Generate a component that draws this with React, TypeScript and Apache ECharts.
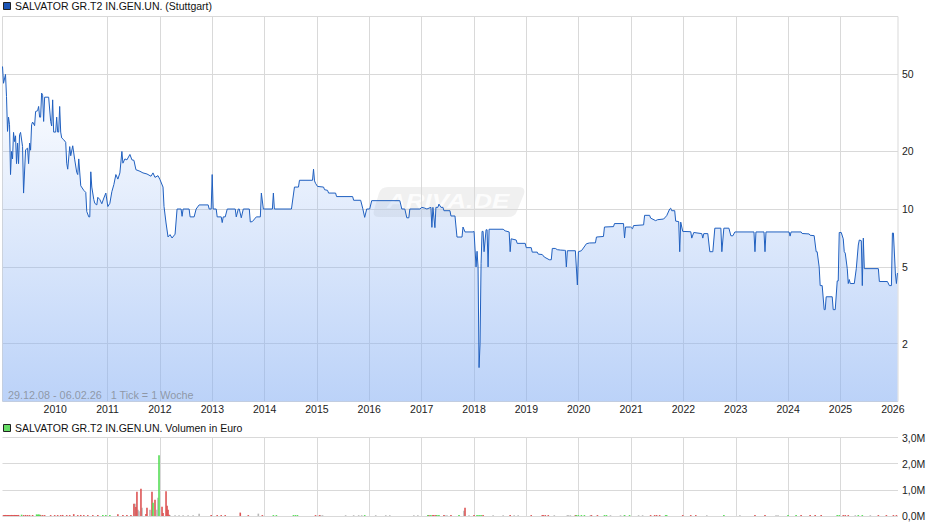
import { useEffect, useRef } from 'react';
import * as echarts from 'echarts';

const startDate = Date.UTC(2008, 11, 29);
const endDate = Date.UTC(2026, 1, 6);
const weekMs = 7 * 24 * 3600 * 1000;

const yearTicks = [2010, 2011, 2012, 2013, 2014, 2015, 2016, 2017, 2018, 2019, 2020, 2021, 2022, 2023, 2024, 2025, 2026];
const priceTicks = [2, 5, 10, 20, 50];

const priceTitle = 'SALVATOR GR.T2 IN.GEN.UN. (Stuttgart)';
const volumeTitle = 'SALVATOR GR.T2 IN.GEN.UN. Volumen in Euro';
const rangeNote = '29.12.08 - 06.02.26   1 Tick = 1 Woche';

// [week since 29.12.08, price]
const pricePoints: [number, number][] = [
  [0, 55], [1, 45], [3, 50], [4, 38.4], [5, 25.3], [6, 30], [7, 27.4], [8, 15.1], [9, 19.9], [10, 18.2],
  [11, 25], [12, 22.4], [13, 24], [14, 17.2], [15, 22], [16, 17.2], [17, 24.3], [18, 25], [20, 21.1], [21, 12.1],
  [23, 20.3], [25, 20.7], [26, 17.2], [27, 22], [28, 20.2], [29, 27.4], [30, 28.3], [32, 27.1], [33, 32.1], [35, 32.4],
  [36, 34.1], [37, 30], [38, 30], [39, 40], [40, 39], [41, 28.5], [42, 38.1], [46, 38.1], [48, 28.5], [49, 27],
  [50, 36.9], [51, 25.1], [53, 25.1], [54, 30], [55, 25.1], [56, 25.1], [57, 34.1], [58, 25.1], [59, 23.4], [61, 22.9],
  [63, 22.2], [64, 17.3], [65, 16.1], [67, 21.1], [68, 18.9], [70, 21.3], [72, 18], [74, 15.5], [75, 15.1], [76, 18.2],
  [78, 13.2], [81, 12.5], [83, 12.2], [84, 9.7], [86, 9.1], [87, 9.1], [88, 15.6], [89, 13], [91, 11.2], [92, 10.7],
  [94, 10.5], [95, 11.5], [97, 11.2], [99, 10.65], [101, 11.4], [103, 12.1], [105, 10.3], [107, 10.7], [109, 12.3], [111, 13.4],
  [113, 15.1], [115, 14.3], [117, 15.4], [119, 19.9], [120, 17.3], [122, 18.2], [124, 18], [127, 19.2], [129, 18], [131, 17.9],
  [133, 16], [137, 15.7], [140, 15.4], [144, 15.2], [148, 14.8], [150, 15.4], [152, 14.6], [155, 14.9], [157, 14.2], [160, 13],
  [161, 10.3], [163, 8.46], [165, 7.16], [167, 7.36], [169, 7.07], [172, 7.4], [174, 10], [178, 10], [179, 9.16], [180, 10],
  [186, 10], [187, 9.1], [191, 9.1], [193, 10], [196, 10.5], [205, 10.5], [206, 10], [208, 10], [209, 15.1], [210, 10],
  [213, 10], [214, 9.1], [218, 9.1], [219, 8.5], [220, 9.1], [222, 9.1], [224, 10], [232, 10], [233, 9.1], [235, 10],
  [236, 10], [238, 9], [240, 10], [246, 10], [247, 8.56], [249, 8.6], [253, 9.1], [257, 9.1], [258, 12.1], [260, 10],
  [269, 10], [270, 12.1], [271, 10], [288, 10], [291, 13], [295, 13], [296, 14.1], [309, 14.1], [310, 16.1], [311, 14],
  [312, 13.6], [314, 13.1], [320, 13], [321, 12.6], [324, 12.5], [325, 12.1], [332, 12.1], [333, 11.6], [349, 11.6], [350, 11.1],
  [357, 11.1], [359, 10.1], [361, 9.05], [363, 10], [366, 10], [368, 11.05], [396, 11.05], [398, 10], [401, 10], [403, 9],
  [405, 9], [406, 10], [416, 10], [418, 10.2], [421, 10.1], [423, 10], [427, 10.2], [428, 8.03], [429, 10.2], [431, 8],
  [432, 10.2], [434, 10.2], [435, 10.6], [437, 10.2], [439, 10.2], [440, 9.8], [446, 9.8], [447, 9.2], [451, 9.2], [453, 7.15],
  [458, 7.15], [459, 8.06], [461, 7.6], [469, 7.6], [470, 7.65], [472, 5], [473, 6.03], [474, 5], [475, 1.5], [476, 2],
  [477, 5.2], [478, 7.65], [479, 7.65], [480, 6], [482, 7.8], [483, 7.8], [484, 5], [485, 7.85], [499, 7.85], [501, 7.7],
  [505, 7.6], [506, 6], [507, 7], [512, 6.9], [513, 6.63], [521, 6.63], [522, 6.3], [527, 6.3], [528, 5.97], [533, 5.97],
  [534, 5.83], [538, 5.8], [540, 5.63], [545, 5.45], [547, 5.45], [548, 6.24], [551, 6.24], [553, 6.15], [556, 6.12], [560, 6.1],
  [561, 6.1], [562, 5], [563, 6.07], [571, 6.07], [573, 4.03], [574, 6], [577, 6.07], [579, 6.27], [582, 6.6], [585, 6.66],
  [591, 6.67], [592, 7.15], [599, 7.2], [600, 8.06], [609, 8.1], [610, 8.4], [619, 8.4], [620, 7.07], [621, 8.06], [626, 8.06],
  [628, 7.9], [629, 8.2], [639, 8.27], [640, 9.27], [645, 9.27], [646, 8.97], [651, 8.7], [653, 8.8], [659, 8.87], [662, 9.23],
  [665, 10], [666, 10.1], [667, 9.8], [670, 9.8], [671, 8.65], [674, 8.6], [675, 6], [676, 8.55], [678, 7.65], [686, 7.62],
  [687, 7.06], [689, 7.55], [697, 7.45], [698, 7.06], [699, 7.45], [703, 7.45], [705, 6], [708, 6], [710, 7.95], [716, 7.95],
  [717, 6], [719, 7.95], [724, 7.95], [726, 7.26], [728, 7.26], [730, 7.6], [749, 7.6], [750, 6], [751, 7.6], [759, 7.6],
  [760, 6], [761, 7.6], [784, 7.6], [785, 7.23], [786, 7.6], [796, 7.6], [797, 7.46], [804, 7.42], [805, 7.3], [809, 7.27],
  [811, 6], [812, 6], [814, 5], [815, 4], [817, 4], [819, 3], [820, 3], [821, 3.5], [827, 3.5], [828, 3],
  [830, 3], [832, 4.23], [833, 4.23], [834, 7.55], [836, 7.55], [838, 7], [839, 6], [840, 5.9], [842, 4.9], [843, 4.1],
  [844, 4.3], [845, 4.1], [849, 4.1], [851, 4.9], [853, 6.5], [854, 6.9], [856, 6.85], [857, 4], [858, 7.06], [859, 4.9],
  [873, 4.9], [874, 4.2], [882, 4.2], [884, 4], [886, 4], [887, 7.5], [888, 7.5], [890, 4.6], [891, 4.1], [892, 4.65],
];

// [week since 29.12.08, volume in million euro]
const redVolumes: [number, number][] = [
  [1, 0.035], [2, 0.035], [3, 0.04], [4, 0.035], [5, 0.035], [6, 0.04], [7, 0.035], [8, 0.035], [9, 0.04], [10, 0.035],
  [11, 0.035], [12, 0.04], [13, 0.035], [14, 0.035], [15, 0.035], [16, 0.04], [21, 0.035], [23, 0.04], [25, 0.035], [27, 0.035],
  [30, 0.035], [38, 0.04], [40, 0.035], [42, 0.035], [48, 0.035], [52, 0.035], [55, 0.035], [58, 0.035], [60, 0.04], [64, 0.035],
  [67, 0.035], [71, 0.07], [75, 0.035], [78, 0.04], [81, 0.035], [85, 0.035], [90, 0.035], [95, 0.035], [115, 0.07], [120, 0.035],
  [124, 0.035], [128, 0.035], [131, 0.47], [133, 0.34], [134, 0.93], [138, 1.04], [143, 0.08], [144, 0.32], [149, 0.93], [152, 0.62],
  [159, 0.35], [160, 0.11], [163, 0.95], [164, 0.39], [165, 0.24], [166, 0.05], [208, 0.035], [214, 0.035], [218, 0.035], [222, 0.035],
  [237, 0.13], [245, 0.035], [259, 0.035], [312, 0.035], [316, 0.035], [425, 0.035], [429, 0.035], [430, 0.035], [432, 0.035], [440, 0.035],
  [447, 0.035], [461, 0.32], [470, 0.035], [479, 0.035], [506, 0.035], [527, 0.035], [538, 0.035], [539, 0.035], [541, 0.035], [544, 0.035],
  [571, 0.035], [587, 0.035], [593, 0.035], [646, 0.035], [650, 0.035], [652, 0.035], [655, 0.035], [678, 0.035], [686, 0.035], [691, 0.035],
  [750, 0.035], [760, 0.035], [796, 0.035], [805, 0.035], [810, 0.035], [816, 0.035], [838, 0.035], [840, 0.035], [843, 0.035], [873, 0.035],
  [881, 0.035], [888, 0.035], [891, 0.035],
];

const greenVolumes: [number, number][] = [
  [19, 0.05], [34, 0.06], [35, 0.05], [36, 0.06], [37, 0.05], [100, 0.035], [103, 0.035], [107, 0.035], [150, 0.51], [156, 2.32],
  [270, 0.035], [273, 0.035], [290, 0.035], [292, 0.035], [294, 0.035], [361, 0.035], [424, 0.035], [427, 0.035], [433, 0.035], [435, 0.035],
  [455, 0.035], [473, 0.035], [475, 0.035], [477, 0.035], [572, 0.035], [574, 0.035], [577, 0.035], [580, 0.035], [600, 0.035], [602, 0.035],
  [620, 0.035], [625, 0.035], [661, 0.035], [662, 0.035], [719, 0.035], [783, 0.035], [791, 0.035], [832, 0.035], [834, 0.035], [853, 0.035],
  [857, 0.035],
];

const grayVolumes: [number, number][] = [
  [132, 0.47], [135, 0.24], [136, 0.18], [139, 0.32], [147, 0.24], [154, 0.24], [155, 0.7], [167, 0.03], [172, 0.03], [176, 0.03],
  [180, 0.03], [185, 0.03], [190, 0.03], [196, 0.09], [255, 0.09], [317, 0.03], [319, 0.03], [342, 0.03], [350, 0.03], [355, 0.03],
  [358, 0.03], [372, 0.03], [382, 0.03], [386, 0.03], [410, 0.03], [414, 0.03], [441, 0.03], [443, 0.03], [460, 0.2], [465, 0.03],
  [489, 0.03], [499, 0.03], [510, 0.03], [514, 0.03], [550, 0.03], [563, 0.03], [564, 0.03], [566, 0.03], [586, 0.03], [606, 0.03],
  [616, 0.03], [620, 0.03], [634, 0.03], [638, 0.03], [702, 0.03], [735, 0.03], [771, 0.03], [773, 0.03], [850, 0.03], [865, 0.03],
];

const lastWeek = (endDate - startDate) / weekMs;
const yearWeeks = yearTicks.map(y => (Date.UTC(y, 0, 1) - startDate) / weekMs);
const weekToYear = (w: number) => String(new Date(startDate + w * weekMs + 3600000).getUTCFullYear());

echarts.graphic.registerShape(
  'arivaPlate',
  echarts.graphic.extendPath('M388 187 L518 187 Q526 187 524 194 L517 211 Q515 217 508 217 L379 217 Q372 217 374 210 L379 193 Q381 187 388 187 Z', {}),
);

export default function App() {
  const chartRef = useRef<HTMLDivElement>(null);

  useEffect(() => {
    if (!chartRef.current) return;
    const chart = echarts.init(chartRef.current, null, { renderer: 'svg' });
    const font = 'Liberation Sans';
    const labelSize = 10.5;

    const xAxisBase = {
      type: 'value' as const,
      min: 0,
      max: lastWeek,
      axisLine: { show: false },
      axisTick: { show: false, customValues: yearWeeks },
      splitLine: { show: true, showMinLine: false, showMaxLine: false, lineStyle: { color: '#d9d9d9', width: 1 } },
    };

    chart.setOption({
      animation: false,
      backgroundColor: '#ffffff',
      grid: [
        { left: 2.5, top: 16.5, width: 895.5, height: 385, show: true, borderColor: '#d9d9d9', borderWidth: 1 },
        { left: 2.5, top: 437.5, width: 895.5, height: 78.5, show: false },
      ],
      xAxis: [
        {
          ...xAxisBase,
          gridIndex: 0,
          axisLabel: {
            show: true,
            customValues: yearWeeks,
            formatter: weekToYear,
            color: '#222',
            fontFamily: font,
            fontSize: labelSize,
            margin: 2,
            hideOverlap: false,
          },
        },
        { ...xAxisBase, gridIndex: 1, axisLabel: { show: false, customValues: yearWeeks } },
      ],
      yAxis: [
        {
          type: 'log',
          gridIndex: 0,
          position: 'right',
          min: 1,
          max: 100,
          logBase: 10,
          axisLine: { show: false },
          axisTick: { show: false, customValues: priceTicks },
          axisLabel: { customValues: priceTicks, color: '#222', fontFamily: font, fontSize: labelSize, margin: 4 },
          splitLine: { show: true, lineStyle: { color: '#d9d9d9', width: 1 } },
          minorSplitLine: { show: false },
        },
        {
          type: 'value',
          gridIndex: 1,
          position: 'right',
          min: 0,
          max: 3,
          interval: 1,
          axisLine: { show: false },
          axisTick: { show: false },
          axisLabel: {
            color: '#222',
            fontFamily: font,
            fontSize: labelSize,
            margin: 4,
            formatter: (v: number) => v.toFixed(1).replace('.', ',') + 'M',
          },
          splitLine: { show: true, lineStyle: { color: '#d9d9d9', width: 1 } },
        },
      ],
      graphic: [
        { type: 'arivaPlate', silent: true, z: -1, style: { fill: 'rgba(170,170,170,0.18)' } },
        {
          type: 'text',
          silent: true,
          z: -1,
          x: 387,
          y: 191,
          scaleX: 1.3,
          style: { text: 'ARIVA.DE', font: 'italic bold 20px "Liberation Sans"', fill: 'rgba(255,255,255,0.85)' },
        },
        { type: 'rect', silent: true, shape: { x: 3.5, y: 2.5, width: 7, height: 7 }, style: { fill: '#1c56b8', stroke: '#222', lineWidth: 1 } },
        { type: 'text', silent: true, x: 15, y: 0, style: { text: priceTitle, font: '10.5px "Liberation Sans"', fill: '#111' } },
        { type: 'rect', silent: true, shape: { x: 3.5, y: 424.5, width: 7, height: 7 }, style: { fill: '#66dd66', stroke: '#222', lineWidth: 1 } },
        { type: 'text', silent: true, x: 15, y: 422, style: { text: volumeTitle, font: '10.5px "Liberation Sans"', fill: '#111' } },
        { type: 'text', silent: true, z: 10, x: 8, y: 389, style: { text: rangeNote, font: '10.8px "Liberation Sans"', fill: 'rgba(110,110,110,0.6)' } },
      ],
      series: [
        {
          type: 'line',
          xAxisIndex: 0,
          yAxisIndex: 0,
          data: pricePoints,
          showSymbol: false,
          smooth: false,
          lineStyle: { color: '#2060c0', width: 1 },
          areaStyle: {
            opacity: 1,
            origin: 'start',
            color: new echarts.graphic.LinearGradient(0, 0, 0, 1, [
              { offset: 0, color: 'rgba(134,175,243,0)' },
              { offset: 1, color: 'rgba(134,175,243,0.56)' },
            ]),
          },
        },
        { type: 'bar', xAxisIndex: 1, yAxisIndex: 1, data: grayVolumes, barWidth: 1.6, barGap: '-100%', itemStyle: { color: '#b8b8b8' } },
        { type: 'bar', xAxisIndex: 1, yAxisIndex: 1, data: redVolumes, barWidth: 1.6, barGap: '-100%', itemStyle: { color: '#dd5555' } },
        { type: 'bar', xAxisIndex: 1, yAxisIndex: 1, data: greenVolumes, barWidth: 1.6, barGap: '-100%', itemStyle: { color: '#55dd55' } },
      ],
    });

    return () => chart.dispose();
  }, []);

  return (
    <div
      ref={chartRef}
      style={{ position: 'absolute', left: 0, top: 0, width: 940, height: 526 }}
    />
  );
}
